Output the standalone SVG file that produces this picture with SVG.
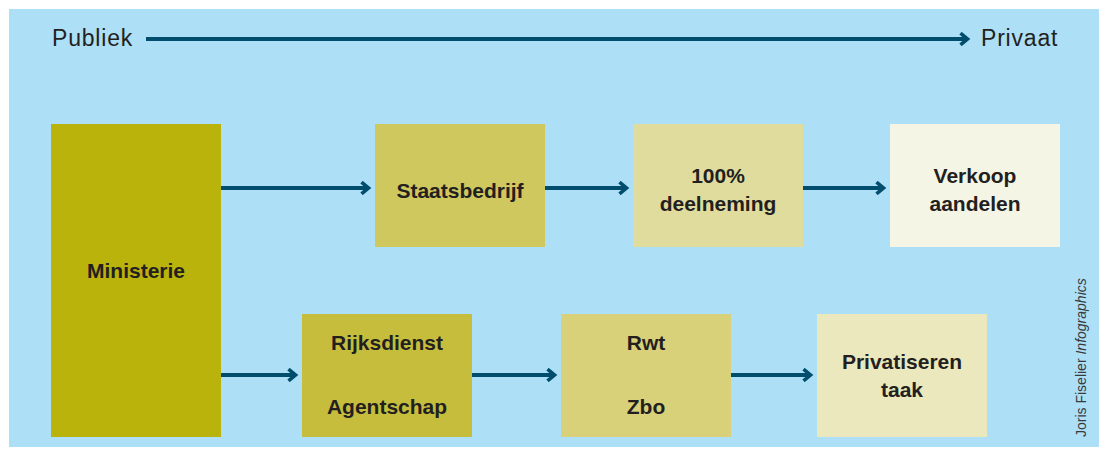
<svg xmlns="http://www.w3.org/2000/svg" width="1099" height="450" viewBox="0 0 1099 450">
<style>
.lbl{font-family:"Liberation Sans",Arial,sans-serif;font-weight:bold;font-size:21px;fill:#231f20;text-anchor:middle}
.ax{font-family:"Liberation Sans",Arial,sans-serif;font-size:23px;letter-spacing:0.8px;fill:#231f20}
.conn{stroke:#004d6d;stroke-width:4;fill:none}
.credit{font-family:"Liberation Sans",Arial,sans-serif;font-size:14px;fill:#3a3a3a}
</style>
<defs>
<marker id="chev" viewBox="0 0 12 14" refX="9.5" refY="7" markerWidth="12" markerHeight="14" markerUnits="userSpaceOnUse" orient="auto">
<path d="M2,1.2 L9,7 L2,12.8" fill="none" stroke="#004d6d" stroke-width="3.6"/>
</marker>
</defs>
<rect x="0" y="0" width="1099" height="450" fill="#ffffff"/>
<rect x="9" y="9" width="1090" height="438" fill="#addff6"/>
<text class="ax" x="52" y="46">Publiek</text>
<text class="ax" x="981" y="46">Privaat</text>
<g id="connectors">
<line class="conn" x1="146" y1="39" x2="968" y2="39" marker-end="url(#chev)"/>
<line class="conn" x1="221" y1="188" x2="369" y2="188" marker-end="url(#chev)"/>
<line class="conn" x1="545" y1="188" x2="627" y2="188" marker-end="url(#chev)"/>
<line class="conn" x1="803" y1="188" x2="884" y2="188" marker-end="url(#chev)"/>
<line class="conn" x1="221" y1="375" x2="296" y2="375" marker-end="url(#chev)"/>
<line class="conn" x1="472" y1="375" x2="555" y2="375" marker-end="url(#chev)"/>
<line class="conn" x1="731" y1="375" x2="811" y2="375" marker-end="url(#chev)"/>
</g>
<g id="ministerie">
<rect x="51" y="124" width="170" height="313" fill="#b9b30b"/>
<text class="lbl" x="136" y="278">Ministerie</text>
</g>
<g id="staatsbedrijf">
<rect x="375" y="124" width="170" height="123" fill="#cfc85e"/>
<text class="lbl" x="460" y="198">Staatsbedrijf</text>
</g>
<g id="deelneming">
<rect x="633" y="124" width="170" height="123" fill="#e0dc9e"/>
<text class="lbl" x="718" y="183">100%</text>
<text class="lbl" x="718" y="211">deelneming</text>
</g>
<g id="verkoop">
<rect x="890" y="124" width="170" height="123" fill="#f4f5e4"/>
<text class="lbl" x="975" y="183">Verkoop</text>
<text class="lbl" x="975" y="211">aandelen</text>
</g>
<g id="rijksdienst">
<rect x="302" y="314" width="170" height="123" fill="#c6bd3c"/>
<text class="lbl" x="387" y="350">Rijksdienst</text>
<text class="lbl" x="387" y="414">Agentschap</text>
</g>
<g id="rwt">
<rect x="561" y="314" width="170" height="123" fill="#d9d07a"/>
<text class="lbl" x="646" y="350">Rwt</text>
<text class="lbl" x="646" y="414">Zbo</text>
</g>
<g id="privatiseren">
<rect x="817" y="314" width="170" height="123" fill="#ebe8be"/>
<text class="lbl" x="902" y="369">Privatiseren</text>
<text class="lbl" x="902" y="397">taak</text>
</g>
<text class="credit" transform="translate(1086,437) rotate(-90)">Joris Fiselier <tspan font-style="italic">Infographics</tspan></text>
</svg>
